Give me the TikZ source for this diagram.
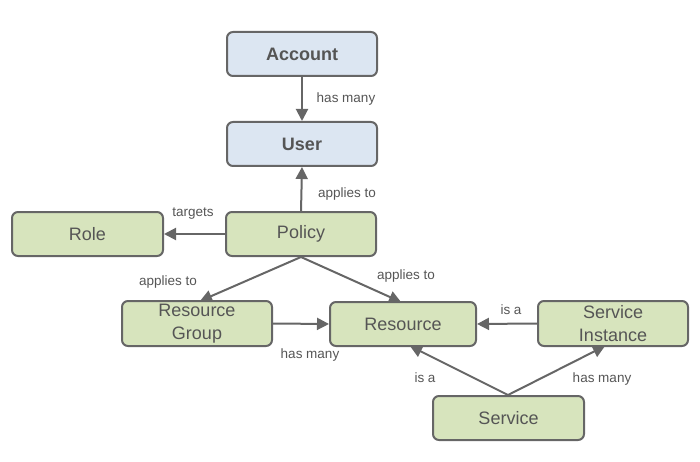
\documentclass[tikz,border=0pt]{standalone}
\usepackage{fontspec}
\setmainfont{Liberation Sans}
\usetikzlibrary{arrows.meta}
\definecolor{bordergray}{HTML}{666666}
\definecolor{textgray}{HTML}{555555}
\definecolor{bluefill}{HTML}{DCE6F2}
\definecolor{greenfill}{HTML}{D7E4BD}
\begin{document}
\begin{tikzpicture}[x=1pt,y=-1pt,
  box/.style={draw=bordergray,line width=2pt,rounded corners=6pt,minimum width=150pt,minimum height=44pt,inner sep=0pt,text=textgray,font=\fontsize{18}{23}\selectfont,align=center},
  bluebox/.style={box,fill=bluefill,font=\fontsize{18}{23}\selectfont\bfseries},
  greenbox/.style={box,fill=greenfill},
  conn/.style={draw=bordergray,line width=2pt,-{Triangle[length=12pt,width=12pt]}},
  lab/.style={text=textgray,font=\fontsize{13.5}{16}\selectfont,inner sep=0pt}]
\useasboundingbox (0,0) rectangle (700,462);
\node[bluebox] (account) at (302,54) {Account};
\node[bluebox] (user) at (302,144) {User};
\node[greenbox,minimum width=151pt] (role) at (87.5,234) {Role};
\node[greenbox] (policy) at (301,234) {Policy};
\node[greenbox,minimum height=45pt] (rgroup) at (197,323.5) {Resource\\Group};
\node[greenbox,minimum width=146pt] (resource) at (403,324) {Resource};
\node[greenbox,minimum height=45pt] (sinst) at (613,323.5) {Service\\Instance};
\node[greenbox,minimum width=151pt] (service) at (508.5,418) {Service};
\coordinate (pb) at (301,257);
\coordinate (st) at (508,395);
\draw[conn] (account.south) -- (user.north);
\draw[conn] (policy.north) -- (user.south);
\draw[conn] (policy.west) -- (role.east);
\draw[conn] (pb) -- (200,301) coordinate (rgt);
\draw[conn] (pb) -- (401,302) coordinate (rst);
\draw[conn] (rgroup.east) -- (resource.west);
\draw[conn] (sinst.west) -- (resource.east);
\draw[conn] (st) -- (410,346) coordinate (rsb);
\draw[conn] (st) -- (605,346) coordinate (sib);
\node[lab] (l1) at (346,99) {has many};
\node[lab] (l2) at (347,194) {applies to};
\node[lab] (l3) at (193,214) {targets};
\node[lab] (l4) at (168,282) {applies to};
\node[lab] (l5) at (406,276) {applies to};
\node[lab] (l6) at (310,355) {has many};
\node[lab] (l7) at (511,310) {is a};
\node[lab] (l8) at (425,378) {is a};
\node[lab] (l9) at (602,379) {has many};
\end{tikzpicture}
\end{document}
